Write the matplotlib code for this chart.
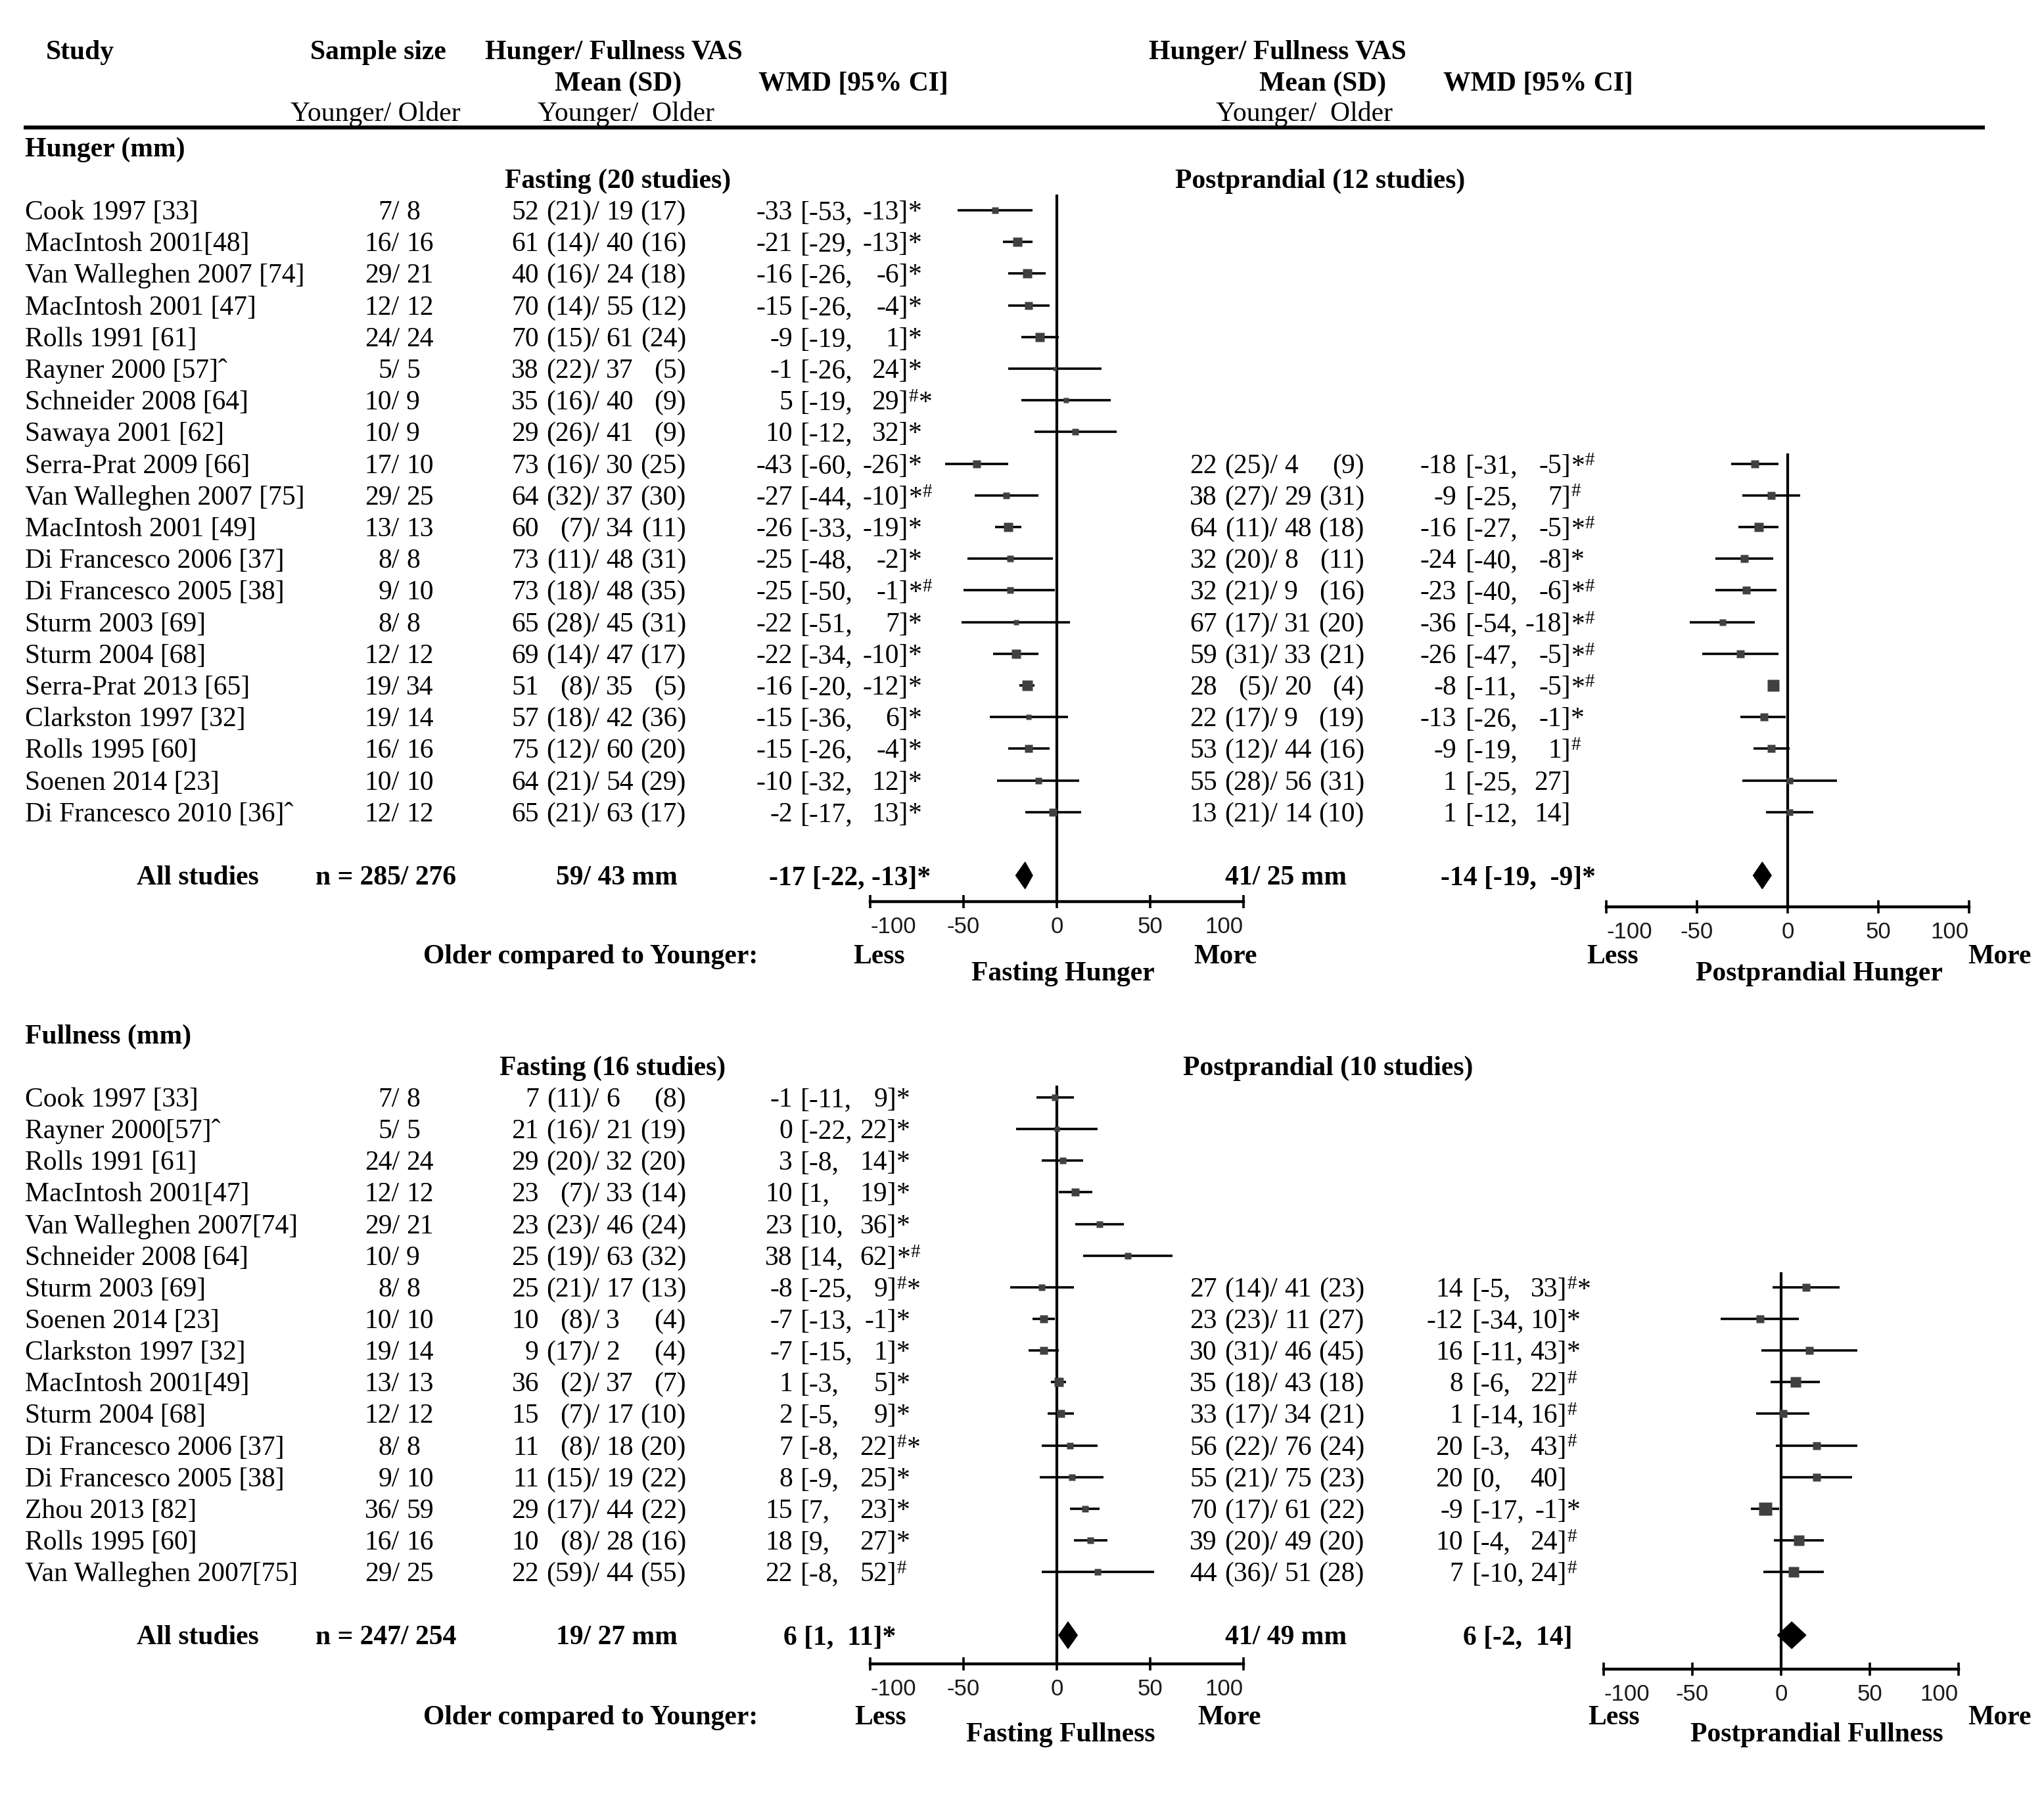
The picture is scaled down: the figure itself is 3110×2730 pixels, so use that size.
import matplotlib
matplotlib.use("Agg")
import matplotlib.pyplot as plt

plt.rcParams['font.family'] = 'Liberation Serif'
plt.rcParams['mathtext.fontset'] = 'custom'
plt.rcParams['mathtext.rm'] = 'Liberation Serif'
plt.rcParams['mathtext.it'] = 'Liberation Serif:italic'
plt.rcParams['mathtext.bf'] = 'Liberation Serif:bold'

# ---------------- Hunger (mm) ----------------
hunger_study = ["Cook 1997 [33]", "MacIntosh 2001[48]", "Van Walleghen 2007 [74]",
                "MacIntosh 2001 [47]", "Rolls 1991 [61]", "Rayner 2000 [57]\u02c6",
                "Schneider 2008 [64]", "Sawaya 2001 [62]", "Serra-Prat 2009 [66]",
                "Van Walleghen 2007 [75]", "MacIntosh 2001 [49]", "Di Francesco 2006 [37]",
                "Di Francesco 2005 [38]", "Sturm 2003 [69]", "Sturm 2004 [68]",
                "Serra-Prat 2013 [65]", "Clarkston 1997 [32]", "Rolls 1995 [60]",
                "Soenen 2014 [23]", "Di Francesco 2010 [36]\u02c6"]
hunger_n_young = [7, 16, 29, 12, 24, 5, 10, 10, 17, 29, 13, 8, 9, 8, 12, 19, 19, 16, 10, 12]
hunger_n_old = [8, 16, 21, 12, 24, 5, 9, 9, 10, 25, 13, 8, 10, 8, 12, 34, 14, 16, 10, 12]

# fasting hunger
hf_mean_y = [52, 61, 40, 70, 70, 38, 35, 29, 73, 64, 60, 73, 73, 65, 69, 51, 57, 75, 64, 65]
hf_sd_y = [21, 14, 16, 14, 15, 22, 16, 26, 16, 32, 7, 11, 18, 28, 14, 8, 18, 12, 21, 21]
hf_mean_o = [19, 40, 24, 55, 61, 37, 40, 41, 30, 37, 34, 48, 48, 45, 47, 35, 42, 60, 54, 63]
hf_sd_o = [17, 16, 18, 12, 24, 5, 9, 9, 25, 30, 11, 31, 35, 31, 17, 5, 36, 20, 29, 17]
hf_wmd = [-33, -21, -16, -15, -9, -1, 5, 10, -43, -27, -26, -25, -25, -22, -22, -16, -15, -15, -10, -2]
hf_lo = [-53, -29, -26, -26, -19, -26, -19, -12, -60, -44, -33, -48, -50, -51, -34, -20, -36, -26, -32, -17]
hf_hi = [-13, -13, -6, -4, 1, 24, 29, 32, -26, -10, -19, -2, -1, 7, -10, -12, 6, -4, 12, 13]
hf_mark = ["*", "*", "*", "*", "*", "*", "#*", "*", "*", "*#", "*", "*", "*#", "*", "*", "*", "*", "*", "*", "*"]
hf_wt = [9, 12, 12, 11, 12, 5, 7, 9, 10, 9, 12, 9, 9, 7, 12, 13, 7, 11, 9, 10]

# postprandial hunger (last 12 studies of the list)
hp_mean_y = [22, 38, 64, 32, 32, 67, 59, 28, 22, 53, 55, 13]
hp_sd_y = [25, 27, 11, 20, 21, 17, 31, 5, 17, 12, 28, 21]
hp_mean_o = [4, 29, 48, 8, 9, 31, 33, 20, 9, 44, 56, 14]
hp_sd_o = [9, 31, 18, 11, 16, 20, 21, 4, 19, 16, 31, 10]
hp_wmd = [-18, -9, -16, -24, -23, -36, -26, -8, -13, -9, 1, 1]
hp_lo = [-31, -25, -27, -40, -40, -54, -47, -11, -26, -19, -25, -12]
hp_hi = [-5, 7, -5, -8, -6, -18, -5, -5, -1, 1, 27, 14]
hp_mark = ["*#", "#", "*#", "*", "*#", "*#", "*#", "*#", "*", "#", "", ""]
hp_wt = [11, 10, 12, 10, 10, 9, 10, 16, 10, 10, 8, 8]

hunger_total_n = (285, 276)
hf_pool_mean = (59, 43)
hf_pool = (-17, -22, -13, "*")
hp_pool_mean = (41, 25)
hp_pool = (-14, -19, -9, "*")

# ---------------- Fullness (mm) ----------------
fullness_study = ["Cook 1997 [33]", "Rayner 2000[57]\u02c6", "Rolls 1991 [61]",
                  "MacIntosh 2001[47]", "Van Walleghen 2007[74]", "Schneider 2008 [64]",
                  "Sturm 2003 [69]", "Soenen 2014 [23]", "Clarkston 1997 [32]",
                  "MacIntosh 2001[49]", "Sturm 2004 [68]", "Di Francesco 2006 [37]",
                  "Di Francesco 2005 [38]", "Zhou 2013 [82]", "Rolls 1995 [60]",
                  "Van Walleghen 2007[75]"]
fullness_n_young = [7, 5, 24, 12, 29, 10, 8, 10, 19, 13, 12, 8, 9, 36, 16, 29]
fullness_n_old = [8, 5, 24, 12, 21, 9, 8, 10, 14, 13, 12, 8, 10, 59, 16, 25]

ff_mean_y = [7, 21, 29, 23, 23, 25, 25, 10, 9, 36, 15, 11, 11, 29, 10, 22]
ff_sd_y = [11, 16, 20, 7, 23, 19, 21, 8, 17, 2, 7, 8, 15, 17, 8, 59]
ff_mean_o = [6, 21, 32, 33, 46, 63, 17, 3, 2, 37, 17, 18, 19, 44, 28, 44]
ff_sd_o = [8, 19, 20, 14, 24, 32, 13, 4, 4, 7, 10, 20, 22, 22, 16, 55]
ff_wmd = [-1, 0, 3, 10, 23, 38, -8, -7, -7, 1, 2, 7, 8, 15, 18, 22]
ff_lo = [-11, -22, -8, 1, 10, 14, -25, -13, -15, -3, -5, -8, -9, 7, 9, -8]
ff_hi = [9, 22, 14, 19, 36, 62, 9, -1, 1, 5, 9, 22, 25, 23, 27, 52]
ff_mark = ["*", "*", "*", "*", "*", "*#", "#*", "*", "*", "*", "*", "#*", "*", "*", "*", "#"]
ff_wt = [8, 7, 9, 10, 8, 8, 8, 10, 11, 12, 10, 9, 9, 9, 9, 8]

# postprandial fullness (last 10 studies of the list)
fp_mean_y = [27, 23, 30, 35, 33, 56, 55, 70, 39, 44]
fp_sd_y = [14, 23, 31, 18, 17, 22, 21, 17, 20, 36]
fp_mean_o = [41, 11, 46, 43, 34, 76, 75, 61, 49, 51]
fp_sd_o = [23, 27, 45, 18, 21, 24, 23, 22, 20, 28]
fp_wmd = [14, -12, 16, 8, 1, 20, 20, -9, 10, 7]
fp_lo = [-5, -34, -11, -6, -14, -3, 0, -17, -4, -10]
fp_hi = [33, 10, 43, 22, 16, 43, 40, -1, 24, 24]
fp_mark = ["#*", "*", "*", "#", "#", "#", "", "*", "#", "#"]
fp_wt = [11, 11, 11, 14, 11, 11, 11, 17, 14, 14]

fullness_total_n = (247, 254)
ff_pool_mean = (19, 27)
ff_pool = (6, 1, 11, "*")
fp_pool_mean = (41, 49)
fp_pool = (6, -2, 14, "")

ticks = [-100, -50, 0, 50, 100]

# ---------------- layout ----------------
W, H = 1555, 1365          # layout units = half of output pixels
FS = 30
BASE = 7                   # centre-of-line -> baseline offset

fig = plt.figure(figsize=(31.1, 27.3), dpi=100)
bg = fig.add_axes([0, 0, 1, 1])
bg.set_xlim(0, W)
bg.set_ylim(H, 0)
bg.axis('off')


def txt(x, y, s, ha='left', bold=False, size=FS):
    bg.text(x, y + BASE, s, ha=ha, va='baseline', fontsize=size,
            fontweight='bold' if bold else 'normal', color='k')


def marks(m):
    return m.replace('#', r'$^{\#}$')


def table(y0, step, first, my, sy, mo, so, wmd, lo, hi, mk, c):
    for i in range(len(wmd)):
        y = y0 + step * (first + i)
        txt(c['m1'], y, str(my[i]), ha='right')
        txt(c['s1'], y, f"({sy[i]})/", ha='right')
        txt(c['m2'], y, str(mo[i]))
        txt(c['s2'], y, f"({so[i]})", ha='right')
        txt(c['est'], y, str(wmd[i]), ha='right')
        txt(c['lo'], y, f"[{lo[i]},")
        txt(c['hi'], y, f"{hi[i]}]", ha='right')
        if mk[i]:
            txt(c['hi'], y, marks(mk[i]))


def studies(y0, step, names, ny, no):
    for i, name in enumerate(names):
        y = y0 + step * i
        txt(19, y, name)
        txt(304, y, f"{ny[i]}/", ha='right')
        txt(309, y, str(no[i]))


def summary(y, n, pm_l, pool_l, pm_r, pool_r, xr):
    txt(104, y, "All studies", bold=True)
    txt(240, y, f"n = {n[0]}/ {n[1]}", bold=True)
    txt(423, y, f"{pm_l[0]}/ {pm_l[1]} mm", bold=True)
    e, l, h, m = pool_l
    txt(xr[0], y, f"{e} [{l},{h:>4}]{m}", bold=True)
    txt(932, y, f"{pm_r[0]}/ {pm_r[1]} mm", bold=True)
    e, l, h, m = pool_r
    txt(xr[1], y, f"{e} [{l},{h:>4}]{m}", bold=True)


def forest(x0, x1, ytop, yaxis, y0, step, first, wmd, lo, hi, wt, pool, pool_row):
    ax = fig.add_axes([x0 / W, 1 - yaxis / H, (x1 - x0) / W, (yaxis - ytop) / H])
    ax.patch.set_alpha(0)
    ax.set_xlim(-100, 100)
    ax.set_ylim((yaxis - y0) / step, (ytop - y0) / step)
    for s in ['top', 'right', 'left']:
        ax.spines[s].set_visible(False)
    ax.spines['bottom'].set_linewidth(3.2)
    ax.set_yticks([])
    ax.axvline(0, color='k', lw=3.0, zorder=1)
    rows = [first + i for i in range(len(wmd))]
    ax.hlines(rows, lo, hi, color='k', lw=2.6, zorder=2)
    for r, e, w in zip(rows, wmd, wt):
        ax.plot(e, r, marker='s', ms=w * 0.85, color='#404040', mec='none',
                ls='none', zorder=3, clip_on=False)
    e, l, h, _ = pool
    ax.fill([l, e, h, e], [pool_row, pool_row - 0.42, pool_row, pool_row + 0.42],
            color='k', zorder=3, clip_on=False)
    ax.set_xticks(ticks)
    lbls = ax.set_xticklabels([str(t) for t in ticks], fontfamily='Liberation Sans',
                              fontsize=25, color='#1a1a1a')
    lbls[0].set_ha('left')
    lbls[-1].set_ha('right')
    ax.tick_params(axis='x', direction='inout', length=15, width=2.6, pad=8)
    return ax


def axis_labels(y, x_less, x_more, x_title, title, older=True):
    if older:
        txt(322, y, "Older compared to Younger:", bold=True)
    txt(x_less, y, "Less", bold=True)
    txt(x_more, y, "More", bold=True)
    txt(x_title, y + 13, title, bold=True)


# ---------------- header ----------------
txt(35, 38, "Study", bold=True)
txt(236, 38, "Sample size", bold=True)
txt(369, 38, "Hunger/ Fullness VAS", bold=True)
txt(422, 62, "Mean (SD)", bold=True)
txt(577, 62, "WMD [95% CI]", bold=True)
txt(221, 85, "Younger/ Older")
txt(409, 85, "Younger/  Older")
txt(874, 38, "Hunger/ Fullness VAS", bold=True)
txt(958, 62, "Mean (SD)", bold=True)
txt(1098, 62, "WMD [95% CI]", bold=True)
txt(925, 85, "Younger/  Older")
bg.hlines(97, 18, 1510, color='k', lw=4.3)

LEFT = dict(m1=410, s1=456, m2=461, s2=522, est=603, lo=609, hi=691)
RIGHT = dict(m1=926, s1=972, m2=977, s2=1038, est=1108, lo=1115, hi=1195)

# ---------------- hunger block ----------------
hy0, hstep = 160, 24.1
txt(19, 112, "Hunger (mm)", bold=True)
txt(384, 136, f"Fasting ({len(hf_wmd)} studies)", bold=True)
txt(894, 136, f"Postprandial ({len(hp_wmd)} studies)", bold=True)
studies(hy0, hstep, hunger_study, hunger_n_young, hunger_n_old)
hp_first = len(hf_wmd) - len(hp_wmd)
table(hy0, hstep, 0, hf_mean_y, hf_sd_y, hf_mean_o, hf_sd_o, hf_wmd, hf_lo, hf_hi, hf_mark, LEFT)
table(hy0, hstep, hp_first, hp_mean_y, hp_sd_y, hp_mean_o, hp_sd_o, hp_wmd, hp_lo, hp_hi, hp_mark, RIGHT)
h_pool_row = len(hf_wmd) + 1
summary(hy0 + hstep * h_pool_row, hunger_total_n, hf_pool_mean, hf_pool, hp_pool_mean, hp_pool,
        (585, 1096))
forest(662, 946, 148, 686, hy0, hstep, 0, hf_wmd, hf_lo, hf_hi, hf_wt, hf_pool, h_pool_row)
forest(1222, 1498, 345, 690, hy0, hstep, hp_first, hp_wmd, hp_lo, hp_hi, hp_wt, hp_pool, h_pool_row)
axis_labels(726, 649, 908, 739, "Fasting Hunger")
axis_labels(726, 1207, 1497, 1290, "Postprandial Hunger", older=False)

# ---------------- fullness block ----------------
fy0, fstep = 835, 24.07
LEFT_F = dict(LEFT, hi=682)
RIGHT_F = dict(RIGHT, est=1113, lo=1120, hi=1192)
txt(19, 787, "Fullness (mm)", bold=True)
txt(380, 811, f"Fasting ({len(ff_wmd)} studies)", bold=True)
txt(900, 811, f"Postprandial ({len(fp_wmd)} studies)", bold=True)
studies(fy0, fstep, fullness_study, fullness_n_young, fullness_n_old)
fp_first = len(ff_wmd) - len(fp_wmd)
table(fy0, fstep, 0, ff_mean_y, ff_sd_y, ff_mean_o, ff_sd_o, ff_wmd, ff_lo, ff_hi, ff_mark, LEFT_F)
table(fy0, fstep, fp_first, fp_mean_y, fp_sd_y, fp_mean_o, fp_sd_o, fp_wmd, fp_lo, fp_hi, fp_mark, RIGHT_F)
f_pool_row = len(ff_wmd) + 1
summary(fy0 + fstep * f_pool_row, fullness_total_n, ff_pool_mean, ff_pool, fp_pool_mean, fp_pool,
        (596, 1113))
forest(662, 946, 826, 1266, fy0, fstep, 0, ff_wmd, ff_lo, ff_hi, ff_wt, ff_pool, f_pool_row)
forest(1220, 1490, 968, 1270, fy0, fstep, fp_first, fp_wmd, fp_lo, fp_hi, fp_wt, fp_pool, f_pool_row)
axis_labels(1305, 650, 911, 735, "Fasting Fullness")
axis_labels(1305, 1208, 1497, 1286, "Postprandial Fullness", older=False)

fig.savefig("out.png", dpi=100)
